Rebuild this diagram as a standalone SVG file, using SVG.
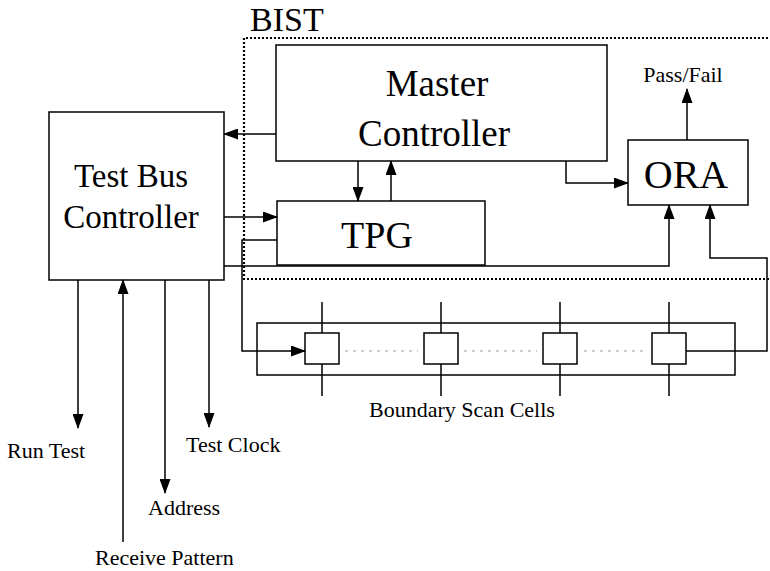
<svg xmlns="http://www.w3.org/2000/svg" width="770" height="571" viewBox="0 0 770 571">
<defs>
<marker id="ah" markerUnits="userSpaceOnUse" markerWidth="15" markerHeight="11" refX="14" refY="5.5" orient="auto"><path d="M0,0 L15,5.5 L0,11 z" fill="#000"/></marker>
<style>
.box{fill:#fff;stroke:#000;stroke-width:1.5}
.ln{fill:none;stroke:#000;stroke-width:1.5}
.arr{fill:none;stroke:#000;stroke-width:1.5;marker-end:url(#ah)}
.dot{fill:none;stroke:#000;stroke-width:2.2;stroke-dasharray:2 2}
.faint{fill:none;stroke:#999;stroke-width:1;stroke-dasharray:3 5}
text{font-family:"Liberation Serif","Times New Roman",serif;fill:#000}
.mid{text-anchor:middle}
.sm{font-size:22px}
</style>
</defs>
<rect width="770" height="571" fill="#fff"/>
<g id="bist">
<path class="dot" d="M772,38 H244 V279 H772"/>
<text x="250" y="31" font-size="34">BIST</text>
</g>
<g id="master-controller">
<rect class="box" x="276" y="45" width="331" height="116"/>
<text class="mid" x="437" y="96" font-size="37">Master</text>
<text class="mid" x="434" y="146" font-size="37">Controller</text>
</g>
<g id="test-bus-controller">
<rect class="box" x="49" y="112" width="175" height="168"/>
<text class="mid" x="131" y="187" font-size="33">Test Bus</text>
<text class="mid" x="131" y="228" font-size="33">Controller</text>
</g>
<g id="tpg">
<rect class="box" x="277" y="201" width="208" height="64"/>
<text class="mid" x="377" y="248" font-size="38">TPG</text>
</g>
<g id="ora">
<rect class="box" x="628" y="140" width="120" height="65"/>
<text class="mid" x="686" y="188" font-size="40">ORA</text>
</g>
<g id="boundary-scan">
<rect class="box" x="257" y="323" width="478" height="52"/>
<path class="faint" d="M345,351 H418 M464,351 H537 M584,351 H646"/>
<g id="cell-1"><path class="ln" d="M322,302 V333 M322,364 V396"/><rect class="box" x="305" y="333" width="34" height="31"/></g>
<g id="cell-2"><path class="ln" d="M441,302 V333 M441,364 V396"/><rect class="box" x="424" y="333" width="34" height="31"/></g>
<g id="cell-3"><path class="ln" d="M560,302 V333 M560,364 V396"/><rect class="box" x="543" y="333" width="34" height="31"/></g>
<g id="cell-4"><path class="ln" d="M669,302 V333 M669,364 V396"/><rect class="box" x="652" y="333" width="34" height="31"/></g>
<text class="mid sm" x="462" y="417">Boundary Scan Cells</text>
</g>
<g id="connectors">
<path class="arr" d="M276,134 H224"/>
<path class="arr" d="M224,217 H277"/>
<path class="arr" d="M358,161 V201"/>
<path class="arr" d="M391,201 V161"/>
<path class="arr" d="M566,161 V183 H628"/>
<path class="arr" d="M687,140 V89"/>
<path class="arr" d="M224,266 H669 V205"/>
<path class="arr" d="M277,240 H242 V351 H305"/>
<path class="arr" d="M686,351 H767 V258 H710 V205"/>
<path class="arr" d="M78,280 V428"/>
<path class="arr" d="M165,280 V493"/>
<path class="arr" d="M209,280 V427"/>
<path class="arr" d="M123,542 V280"/>
</g>
<g id="labels">
<text class="mid sm" x="683" y="82">Pass/Fail</text>
<text class="sm" x="7" y="458">Run Test</text>
<text class="sm" x="186" y="452">Test Clock</text>
<text class="sm" x="148" y="515">Address</text>
<text class="sm" x="95" y="565">Receive Pattern</text>
</g>
</svg>
